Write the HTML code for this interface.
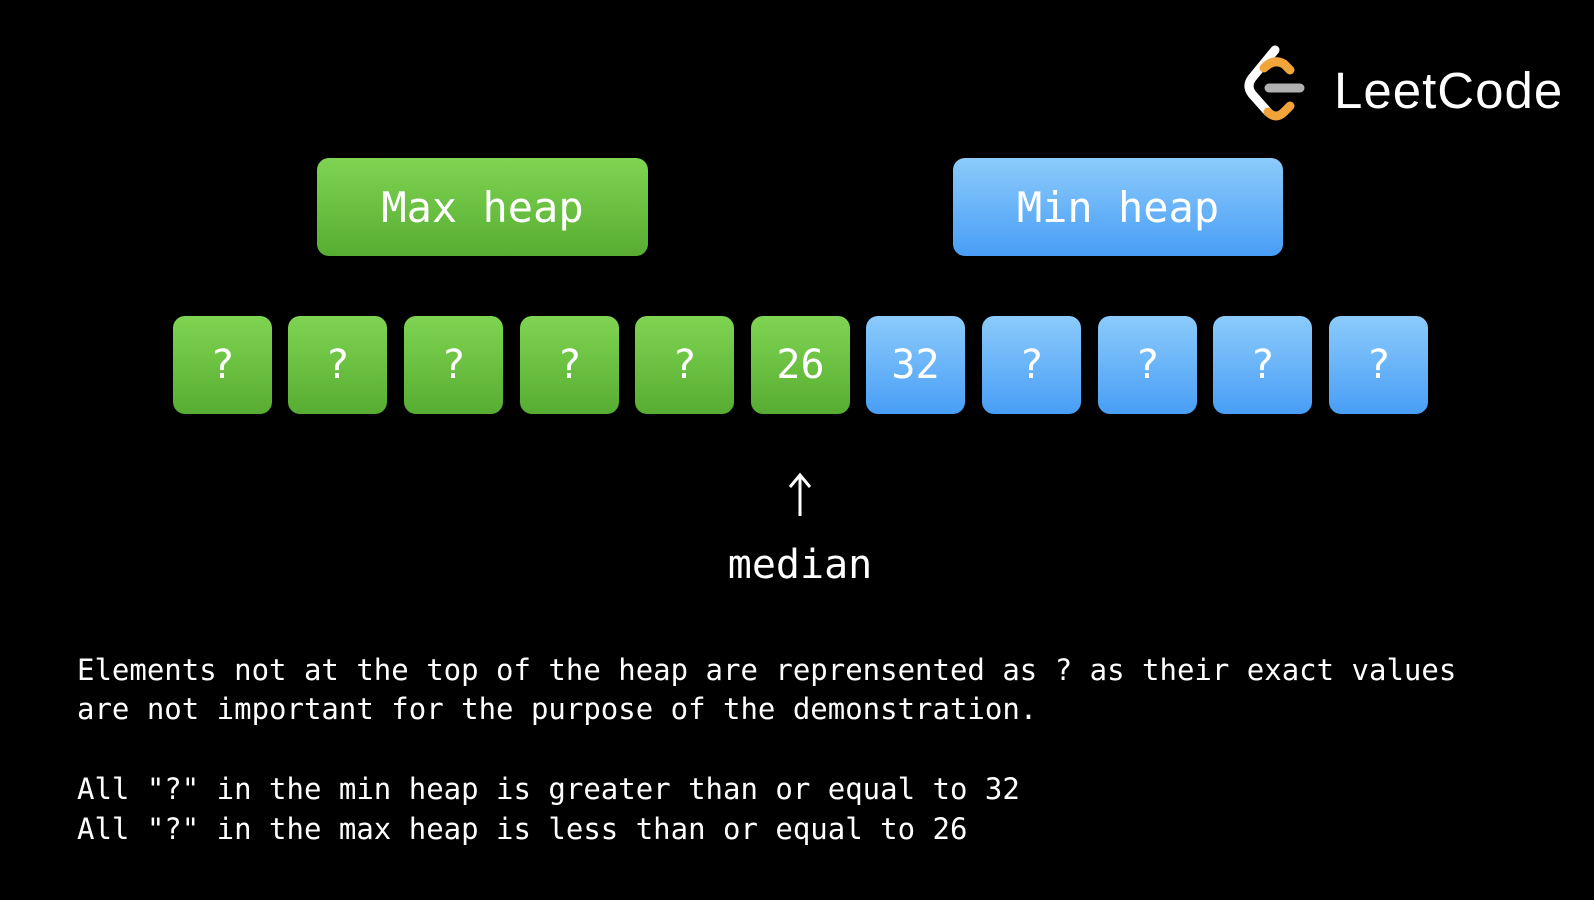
<!DOCTYPE html>
<html><head><meta charset="utf-8"><style>
html,body{margin:0;padding:0;background:#000;width:1594px;height:900px;overflow:hidden;position:relative;font-family:"DejaVu Sans Mono","Liberation Mono",monospace;color:#fff}
.b{position:absolute;border-radius:12px;display:flex;align-items:center;justify-content:center;color:#fff;font-size:40px}
.g{background:linear-gradient(#7fd452,#57ad31)}
.u{background:linear-gradient(#8ccbfb,#489ef6)}
.t{position:absolute;left:77px;font-size:29px;white-space:pre;line-height:1}
</style></head><body>
<svg style="position:absolute;left:1240px;top:42px" width="80" height="84" viewBox="0 0 80 84">
<path d="M35 8 L12 36 Q6 44 12 52 L28 70" stroke="#fff" stroke-width="9" fill="none" stroke-linecap="round"/>
<path d="M28 70 Q36 78 44 70 L50 64" stroke="#f0a43a" stroke-width="9" fill="none" stroke-linecap="round"/>
<path d="M24 26 Q34 16 44 22 L50 28" stroke="#f0a43a" stroke-width="9" fill="none" stroke-linecap="round"/>
<path d="M29 46 L60 46" stroke="#b0b0b0" stroke-width="9" stroke-linecap="round"/>
</svg>
<div style="position:absolute;left:1334px;top:61px;font-family:'Liberation Sans',sans-serif;font-size:51px;letter-spacing:1px;color:#fff">LeetCode</div>
<div class="b g" style="left:317px;top:158px;width:331px;height:98px;font-size:42px">Max heap</div>
<div class="b u" style="left:953px;top:158px;width:330px;height:98px;font-size:42px">Min heap</div>
<div class="b g" style="left:173px;top:316px;width:99px;height:98px">?</div>
<div class="b g" style="left:288px;top:316px;width:99px;height:98px">?</div>
<div class="b g" style="left:404px;top:316px;width:99px;height:98px">?</div>
<div class="b g" style="left:520px;top:316px;width:99px;height:98px">?</div>
<div class="b g" style="left:635px;top:316px;width:99px;height:98px">?</div>
<div class="b g" style="left:751px;top:316px;width:99px;height:98px">26</div>
<div class="b u" style="left:866px;top:316px;width:99px;height:98px">32</div>
<div class="b u" style="left:982px;top:316px;width:99px;height:98px">?</div>
<div class="b u" style="left:1098px;top:316px;width:99px;height:98px">?</div>
<div class="b u" style="left:1213px;top:316px;width:99px;height:98px">?</div>
<div class="b u" style="left:1329px;top:316px;width:99px;height:98px">?</div>
<svg style="position:absolute;left:785px;top:472px" width="30" height="46"><path d="M15 44 L15 4 M5 15 L15 3 L25 15" stroke="#fff" stroke-width="3" fill="none"/></svg>
<div style="position:absolute;left:600px;width:400px;top:542px;text-align:center;font-size:40px">median</div>
<div class="t" style="top:656px">Elements not at the top of the heap are reprensented as ? as their exact values</div>
<div class="t" style="top:695px">are not important for the purpose of the demonstration.</div>
<div class="t" style="top:775px">All "?" in the min heap is greater than or equal to 32</div>
<div class="t" style="top:815px">All "?" in the max heap is less than or equal to 26</div>
</body></html>
